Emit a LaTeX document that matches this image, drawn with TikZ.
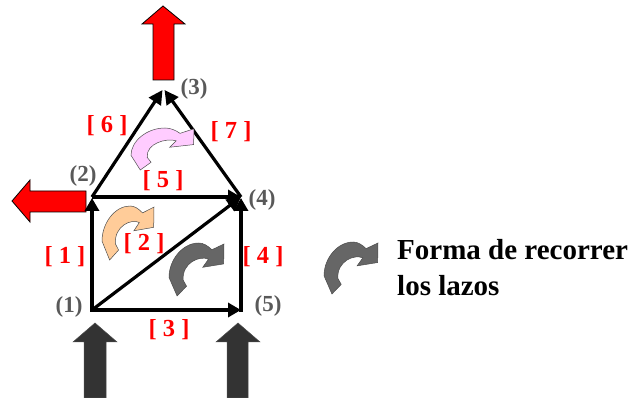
\documentclass[tikz,border=0pt]{standalone}
\usepackage{fontspec}
\setmainfont{Liberation Serif}
\usetikzlibrary{arrows.meta}
\definecolor{numgrey}{HTML}{595959}
\definecolor{darkblock}{HTML}{333333}
\definecolor{loopgrey}{HTML}{666666}
\definecolor{loopor}{HTML}{FFCC99}
\definecolor{looppk}{HTML}{FFCCFF}
\newcommand{\lazoshape}[5]{%
  \begin{scope}[shift={(#1,#2)},x=#3pt/163,y=-#4pt/157]
    \draw[draw=black!70,line width=0.5pt,fill=#5]
      (24,157) -- (0,102) .. controls (0,50) and (40,0) .. (88,0)
      .. controls (102,0) and (115,8) .. (127,20) -- (163,3) -- (162,62) -- (100,72) -- (117,48)
      .. controls (92,36) and (38,58) .. (42,110) -- (52,128) -- cycle;
  \end{scope}}
\tikzset{
  edgeA/.style={line width=4pt,-{Triangle[length=13pt,width=14pt]}},
  edgeB/.style={line width=3.2pt,-{Triangle[length=14pt,width=14pt]}},
  redlab/.style={text=red,font=\bfseries\fontsize{24.5}{26}\selectfont,inner sep=0pt},
  numlab/.style={text=numgrey,font=\bfseries\fontsize{23}{25}\selectfont,inner sep=0pt},
  legendtext/.style={anchor=base west,inner sep=0pt,font=\bfseries\fontsize{29}{32}\selectfont},
  blockred/.style={draw=black,line width=0.8pt,fill=red},
  blockdark/.style={draw=black!70,line width=0.5pt,fill=darkblock},
}
\begin{document}
\begin{tikzpicture}[x=1pt,y=-1pt]
\useasboundingbox (0,0) rectangle (630,398);
% block arrows
\draw[blockred] (163,6) -- (185,24) -- (174,24) -- (174,80) -- (153,80) -- (153,24) -- (142,24) -- cycle;
\draw[blockred] (12,201) -- (30,180) -- (30,191) -- (86,191) -- (86,212) -- (30,212) -- (30,222) -- cycle;
\draw[blockdark] (95,323) -- (117,342) -- (106,342) -- (106,398) -- (84,398) -- (84,342) -- (73,342) -- cycle;
\draw[blockdark] (238,323) -- (260,342) -- (248,342) -- (248,398) -- (227,398) -- (227,342) -- (216,342) -- cycle;
% vertices
\coordinate (n1) at (92,310);
\coordinate (n1b) at (92,312);
\coordinate (n1c) at (90,310);
\coordinate (n2) at (92,197);
\coordinate (n2b) at (92,198);
\coordinate (n3l) at (162.5,90);
\coordinate (n3r) at (164.5,90);
\coordinate (n4) at (241,197);
\coordinate (n4b) at (241,198);
\coordinate (n5) at (241,310);
\coordinate (n5b) at (241,312);
% edges
\draw[edgeB] (n1) -- (n4);
\draw[edgeA] (n2) -- (n4);
\draw[edgeA] (n1b) -- (n2b);
\draw[edgeA] (n1c) -- (n5);
\draw[edgeA] (n5b) -- (n4b);
\draw[edgeB] (n2) -- (n3l);
\draw[edgeB] (n4) -- (n3r);
% loops
\lazoshape{131}{128}{63}{42}{looppk}
\lazoshape{102}{206}{52}{54}{loopor}
\lazoshape{169}{243}{55}{53}{loopgrey}
\lazoshape{324}{242}{54}{52}{loopgrey}
% labels
\node[redlab] (l1) at (65,257) {[ 1 ]};
\node[redlab] (l2) at (144,244) {[ 2 ]};
\node[redlab] (l3) at (169,330) {[ 3 ]};
\node[redlab] (l4) at (263,257) {[ 4 ]};
\node[redlab] (l5) at (163,181) {[ 5 ]};
\node[redlab] (l6) at (107,126) {[ 6 ]};
\node[redlab] (l7) at (231,132) {[ 7 ]};
\node[numlab] (t1) at (69,307) {(1)};
\node[numlab] (t2) at (83,176) {(2)};
\node[numlab] (t3) at (194,89) {(3)};
\node[numlab] (t4) at (262,200) {(4)};
\node[numlab] (t5) at (268,306) {(5)};
\node[legendtext] (f1) at (397,260) {Forma de recorrer};
\node[legendtext] (f2) at (397,296) {los lazos};
\end{tikzpicture}
\end{document}
